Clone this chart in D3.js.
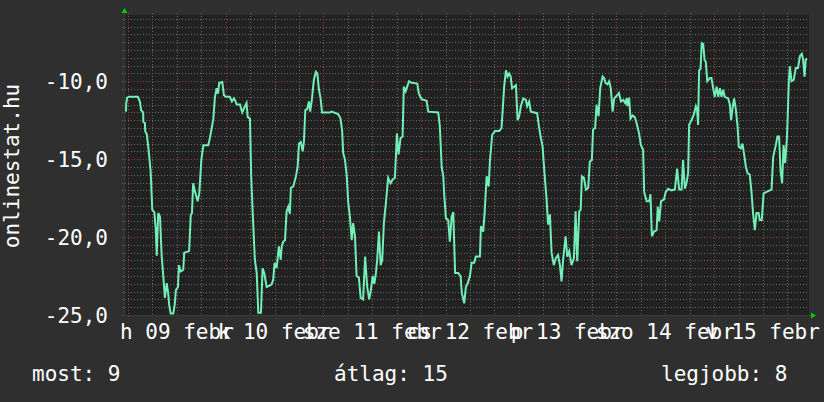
<!DOCTYPE html>
<html><head><meta charset="utf-8">
<script src="https://cdn.jsdelivr.net/npm/d3@7"></script>
<style>
html,body{margin:0;padding:0;background:#2f2f2f;}
svg{display:block;}
text{font-family:"DejaVu Sans Mono",monospace;fill:#ffffff;}
</style></head>
<body><svg id="c" width="824" height="402"></svg>
<script>
// hours after 2015-02-09 00:00
const hours = [-0.5,-0.45,-0.2,0.2,2.4,2.9,3.2,3.7,3.75,4.15,4.2,4.6,5.0,5.55,5.95,6.45,6.8,7.05,7.4,7.85,8.25,8.65,9.05,9.5,9.85,10.1,10.45,11.1,11.45,11.75,12.25,12.5,12.9,13.55,13.8,15.0,15.4,15.7,16.0,16.45,17.1,17.5,18.0,18.5,19.7,20.1,20.55,20.95,21.35,21.75,22.1,22.4,23.15,23.55,24.05,25.0,25.5,26.0,26.25,26.7,27.5,28.05,28.55,29.1,29.4,29.95,30.25,30.75,31.15,31.6,32.0,32.65,33.05,33.45,34.05,35.25,35.65,36.0,36.5,37.05,37.5,37.75,38.1,38.55,38.95,39.35,39.75,40.0,40.6,41.25,41.65,42.0,42.45,42.9,43.2,43.55,44.0,44.45,44.75,45.15,45.65,46.15,46.5,46.9,47.3,47.65,49.6,50.0,51.6,52.2,52.6,52.85,53.3,53.7,54.1,54.5,54.95,55.3,55.75,56.15,56.7,57.15,57.75,58.25,58.75,59.25,59.65,60.1,60.5,60.9,61.2,61.65,62.05,62.45,62.85,63.35,63.9,64.5,65.0,65.55,65.8,66.05,66.45,66.95,67.45,67.75,68.2,68.7,69.05,69.65,71.05,71.45,72.1,73.35,73.75,76.2,76.6,77.05,77.45,77.65,78.1,78.65,79.05,79.5,79.9,80.35,81.1,81.7,82.0,82.6,83.0,83.4,84.0,84.4,85.05,85.45,86.45,86.7,87.25,87.6,88.1,88.6,88.9,89.45,90.15,91.2,91.75,92.0,92.4,92.85,93.25,93.65,94.0,94.35,94.8,95.3,95.7,96.1,96.5,97.1,97.75,98.05,98.55,98.95,100.5,100.95,101.35,101.85,102.25,102.8,103.2,103.65,104.05,104.6,105.1,105.65,106.1,106.5,106.9,107.5,107.9,108.4,108.95,109.55,109.95,110.35,110.85,111.2,111.5,112.0,112.5,113.05,113.45,113.95,114.25,114.75,115.1,115.6,116.0,116.6,116.95,117.3,117.8,118.2,118.6,119.05,119.45,120.0,120.6,121.1,121.65,122.15,122.5,122.7,123.1,123.45,123.95,124.5,124.95,125.55,126.0,126.55,126.8,127.4,128.05,128.35,128.7,129.2,129.85,130.15,130.5,130.95,131.65,132.1,132.7,133.5,134.35,134.9,135.4,136.0,136.35,136.8,137.2,137.6,137.85,138.45,139.0,139.5,139.8,140.05,140.3,140.65,140.95,141.3,141.65,141.95,142.3,142.95,143.35,143.75,144.15,144.6,145.0,145.4,145.8,146.2,146.6,147.45,147.85,148.15,148.5,148.9,149.3,149.75,150.05,150.55,150.95,151.3,151.8,152.2,152.75,153.2,153.55,154.0,154.4,154.9,155.2,155.7,156.15,156.85,158.1,158.5,159.15,159.55,159.95,160.3,160.7,161.05,161.45,161.9,162.35,162.6,163.0,163.55,164.05,164.6,165.05,165.55,165.85,166.2,166.5,166.85];
const values = [-11.95,-11.4,-11.05,-11.0,-11.0,-11.3,-11.85,-12.0,-12.6,-12.7,-13.2,-13.4,-14.3,-15.8,-18.25,-18.4,-19.5,-21.2,-18.45,-18.7,-21.2,-22.5,-23.9,-22.95,-23.6,-24.35,-24.9,-24.9,-24.35,-23.4,-23.2,-21.8,-22.2,-22.1,-21.0,-20.9,-18.6,-18.45,-16.55,-17.1,-17.7,-17.2,-15.05,-14.1,-14.1,-13.65,-13.0,-12.4,-11.0,-10.45,-10.8,-10.1,-10.05,-10.9,-11.0,-11.0,-11.3,-11.1,-11.2,-11.5,-11.5,-12.0,-11.7,-11.4,-12.3,-12.4,-16.1,-19.2,-21.45,-22.3,-24.85,-24.85,-22.0,-22.3,-23.2,-23.05,-22.75,-21.65,-22.0,-20.6,-21.45,-20.6,-20.3,-20.2,-18.35,-18.05,-18.5,-16.85,-16.75,-16.1,-15.5,-14.0,-13.9,-14.5,-13.9,-11.85,-11.8,-11.3,-11.95,-11.2,-9.9,-9.4,-9.5,-10.55,-11.1,-12.0,-12.0,-11.95,-12.1,-12.4,-13.2,-14.6,-15.05,-16.0,-17.8,-18.7,-20.2,-19.1,-19.95,-22.5,-22.6,-23.9,-24.0,-21.25,-23.2,-24.0,-23.4,-22.5,-23.0,-22.3,-21.45,-19.65,-21.8,-21.45,-19.1,-17.8,-16.2,-16.55,-16.3,-16.2,-14.85,-13.35,-14.7,-13.65,-13.55,-10.35,-10.65,-10.25,-10.0,-10.1,-10.15,-10.8,-11.15,-11.25,-11.95,-12.0,-12.9,-15.5,-16.1,-17.2,-18.8,-18.9,-20.3,-18.7,-18.4,-22.3,-22.3,-22.5,-23.6,-24.25,-23.2,-23.0,-22.5,-21.65,-21.65,-21.25,-21.25,-19.3,-19.65,-18.45,-16.1,-16.75,-15.15,-13.45,-13.2,-13.2,-13.0,-12.05,-10.35,-9.3,-9.7,-9.5,-9.7,-10.45,-10.35,-10.25,-12.5,-12.25,-11.6,-11.1,-11.2,-11.6,-11.3,-11.95,-12.05,-12.9,-13.55,-14.2,-15.7,-17.5,-19.2,-18.55,-21.0,-21.8,-21.35,-21.15,-21.8,-22.85,-21.4,-19.95,-21.25,-20.9,-21.8,-21.35,-18.35,-21.55,-18.35,-18.25,-16.1,-16.2,-16.95,-16.85,-15.15,-15.05,-13.1,-13.0,-11.5,-12.25,-10.45,-9.7,-9.8,-10.1,-10.2,-10.0,-10.45,-11.95,-11.1,-10.95,-10.75,-11.3,-11.2,-11.4,-11.1,-11.6,-11.05,-12.4,-12.2,-12.3,-12.7,-13.35,-14.1,-14.4,-17.1,-17.7,-17.7,-17.25,-19.95,-19.65,-19.55,-18.05,-19.0,-17.7,-17.6,-17.1,-16.9,-17.0,-16.95,-15.6,-16.95,-16.95,-15.05,-16.9,-16.55,-15.9,-12.8,-12.5,-12.15,-11.6,-11.8,-12.8,-9.3,-9.2,-7.55,-7.6,-8.65,-8.75,-10.0,-9.8,-9.8,-10.45,-11.0,-10.35,-11.0,-10.45,-11.0,-10.55,-11.0,-11.1,-11.5,-12.5,-11.75,-11.1,-11.75,-12.9,-14.2,-14.3,-14.0,-14.6,-15.5,-15.9,-16.0,-17.2,-18.45,-19.55,-18.45,-18.45,-18.9,-18.9,-17.2,-17.1,-16.95,-14.85,-14.1,-13.55,-13.55,-15.7,-16.55,-14.1,-15.25,-13.55,-10.0,-9.05,-10.0,-9.9,-9.15,-9.15,-8.4,-8.25,-8.6,-9.7,-8.6,-8.55];
const dayLabels = ["h 09 febr","k 10 febr","sze 11 febr","cs 12 febr","p 13 febr","szo 14 febr","v 15 febr"];
const yTicks = [-10,-15,-20,-25];
const yTitle = "onlinestat.hu";
const legendLabels = ["most: 9","átlag: 15","legjobb: 8"];
const xRangeHours = [-1.0, 167.3];
const yDomain = [-25, -5.75];

const base = new Date(2015,1,9,0,0,0);
const toDate = h => new Date(base.getTime() + h*3600e3);
const data = hours.map((h,i)=>({t:toDate(h), v:values[i]}));

const L=124, R=809, T=15, B=315;
const svg = d3.select("#c");
const x = d3.scaleTime().domain(xRangeHours.map(toDate)).range([L,R]);
const y = d3.scaleLinear().domain(yDomain).range([B,T]);
const snap = v => Math.round(v)+0.5;

svg.append("rect").attr("x",L).attr("y",T).attr("width",R-L).attr("height",B-T).attr("fill","#212121");

const g = svg.append("g");
const minorY = d3.range(-25, -5.75+1e-9, 0.5).filter(v=>Math.abs(v%5)>1e-6);
g.selectAll(".hy").data(minorY).join("line")
  .attr("x1",L-2).attr("x2",R).attr("y1",d=>snap(y(d))).attr("y2",d=>snap(y(d)))
  .attr("stroke","#6a6a6a").attr("stroke-dasharray","1,2");
const minorX = d3.timeHour.every(6).range(x.domain()[0], x.domain()[1]).filter(d=>d.getHours()!==0);
g.selectAll(".vx").data(minorX).join("line")
  .attr("y1",T-2).attr("y2",B).attr("x1",d=>snap(x(d))).attr("x2",d=>snap(x(d)))
  .attr("stroke","#6a6a6a").attr("stroke-dasharray","1,2");
const majorY = d3.range(-25, -5.75, 5);
g.selectAll(".my").data(majorY).join("line")
  .attr("x1",L-2).attr("x2",R).attr("y1",d=>snap(y(d))).attr("y2",d=>snap(y(d)))
  .attr("stroke","#904444").attr("stroke-dasharray","1,2");
const majorX = d3.timeDay.range(x.domain()[0], x.domain()[1]);
g.selectAll(".mx").data(majorX).join("line")
  .attr("y1",T-2).attr("y2",B+2).attr("x1",d=>snap(x(d))).attr("x2",d=>snap(x(d)))
  .attr("stroke","#904444").attr("stroke-dasharray","1,2");

svg.append("line").attr("x1",L+0.5).attr("x2",L+0.5).attr("y1",T-3).attr("y2",B).attr("stroke","#3c3c3c");
svg.append("line").attr("x1",L).attr("x2",R+3).attr("y1",B+0.5).attr("y2",B+0.5).attr("stroke","#3c3c3c");
svg.append("path").attr("d",`M${L-2.5},${T-2}L${L+0.5},${T-7}L${L+3.5},${T-2}Z`).attr("fill","#00d000");
svg.append("path").attr("d",`M${R+2},${B-2.5}L${R+7},${B+0.5}L${R+2},${B+3.5}Z`).attr("fill","#00d000");

svg.append("defs").append("clipPath").attr("id","cp").append("rect").attr("x",L).attr("y",T).attr("width",R-L).attr("height",B-T);
svg.append("path").datum(data).attr("clip-path","url(#cp)")
  .attr("d", d3.line().x(d=>x(d.t)).y(d=>y(d.v)))
  .attr("fill","none").attr("stroke","#72efb7").attr("stroke-width",2).attr("stroke-linejoin","miter");

const fmt = v => v.toFixed(1).replace(".",",");
svg.selectAll(".yl").data(yTicks).join("text")
  .attr("x",108).attr("y",d=>y(d)+7.5).attr("text-anchor","end")
  .attr("font-size",21).text(fmt);

svg.selectAll(".xl").data(majorX).join("text")
  .attr("x",d=>x(d3.timeHour.offset(d,12))).attr("y",338.5).attr("text-anchor","middle")
  .attr("font-size",21).text((d,i)=>dayLabels[i]);

svg.append("text").attr("transform","translate(19,166) rotate(-90)").attr("text-anchor","middle")
  .attr("font-size",21).text(yTitle);

const legX = [32, 334, 661];
svg.selectAll(".lg").data(legendLabels).join("text")
  .attr("x",(d,i)=>legX[i]).attr("y",381).attr("font-size",21).text(d=>d);
</script></body></html>
